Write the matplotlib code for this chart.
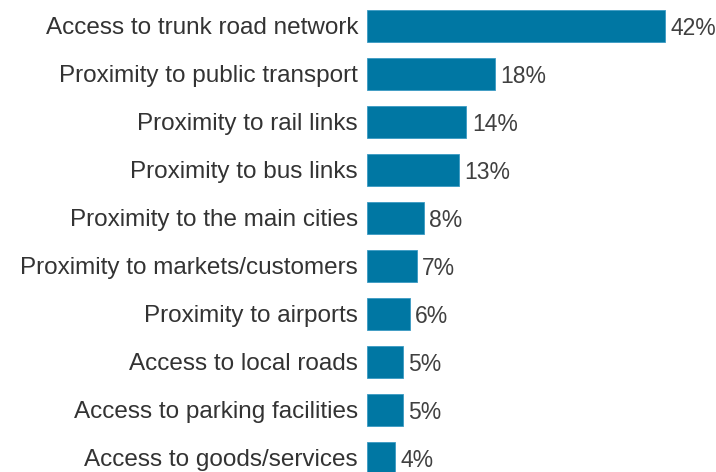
import matplotlib
matplotlib.use('Agg')
from matplotlib import pyplot as plt

plt.rcParams['font.family'] = ['Liberation Sans', 'DejaVu Sans']

# 选址因素及占比
factors = ['Access to trunk road network', 'Proximity to public transport',
           'Proximity to rail links', 'Proximity to bus links',
           'Proximity to the main cities', 'Proximity to markets/customers',
           'Proximity to airports', 'Access to local roads',
           'Access to parking facilities', 'Access to goods/services']
shares = [42, 18, 14, 13, 8, 7, 6, 5, 5, 4]

W, H = 716, 472
fig = plt.figure(figsize=(W / 100, H / 100), dpi=100)
ax = fig.add_axes([367 / W, -10 / H, 341 / W, 480 / H])

pos = list(range(len(factors)))
ax.barh(pos, shares, height=0.667, color='#0077a3', edgecolor='#3a9ac4', linewidth=0.6)
ax.set_xlim(0, 48)
ax.set_ylim(len(factors) - 0.5, -0.5)

for y, name, v in zip(pos, factors, shares):
    ax.text(-1.25, y + 0.05, name, ha='right', va='center', fontsize=17.5, color='#333333')
    ax.text(v + 0.75, y + 0.05, f'{v}%', ha='left', va='center', fontsize=16.5, color='#404040')

ax.axis('off')
fig.savefig('out.png', dpi=100)
